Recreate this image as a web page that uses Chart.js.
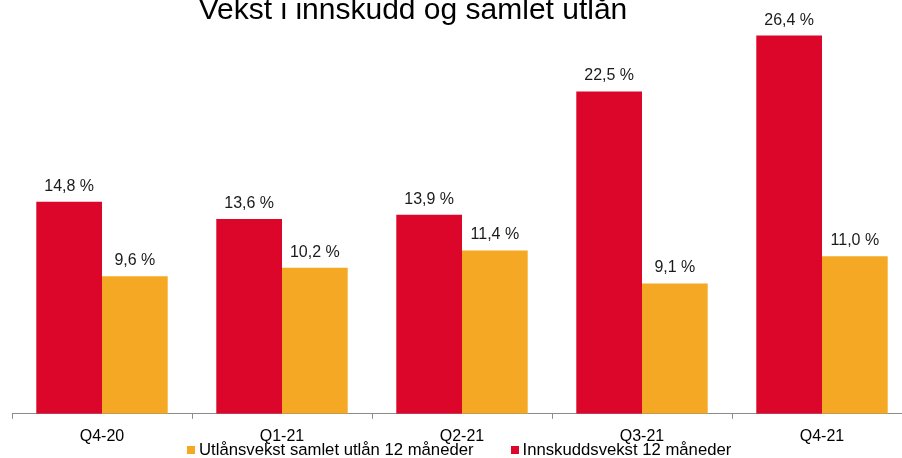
<!DOCTYPE html>
<html>
<head>
<meta charset="utf-8">
<script src="https://cdn.jsdelivr.net/npm/chart.js@4/dist/chart.umd.min.js"></script>
<style>
  html, body { margin: 0; padding: 0; background: #fff; overflow: hidden; }
  body { width: 902px; height: 458px; position: relative; font-family: "Liberation Sans", Arial, sans-serif; }
  #wrap { position: absolute; left: 0; top: -16px; width: 912px; height: 474px; }
  #title {
    position: absolute; left: 0; width: 826px; top: -6px; text-align: center;
    font-size: 30px; line-height: 30px; color: #000; z-index: 2; white-space: nowrap;
  }
  #legend {
    position: absolute; left: 187px; top: 440px; display: flex; gap: 37px;
    font-size: 16.7px; line-height: 19px; color: #000; white-space: nowrap; z-index: 2;
  }
  #legend .item { display: flex; align-items: center; }
  #legend .box { width: 8px; height: 8px; margin-right: 4px; margin-top: 1px; }
</style>
</head>
<body>
<div id="title">Vekst i innskudd og samlet utlån</div>
<div id="wrap"><canvas id="c"></canvas></div>
<div id="legend"></div>
<script>
// Data
const quarters = ['Q4-20', 'Q1-21', 'Q2-21', 'Q3-21', 'Q4-21'];
const innskuddsvekst = [14.8, 13.6, 13.9, 22.5, 26.4];
const utlansvekst = [9.6, 10.2, 11.4, 9.1, 11.0];

const RED = '#DB0629';
const ORANGE = '#F5A823';
const FONT = '"Liberation Sans", Arial, sans-serif';

// draw value labels above bars
const valueLabels = {
  id: 'valueLabels',
  afterDatasetsDraw(chart) {
    const ctx = chart.ctx;
    ctx.save();
    ctx.font = '16px ' + FONT;
    ctx.fillStyle = '#1a1a1a';
    ctx.textAlign = 'center';
    ctx.textBaseline = 'alphabetic';
    chart.data.datasets.forEach((ds, i) => {
      chart.getDatasetMeta(i).data.forEach((bar, j) => {
        const txt = ds.data[j].toFixed(1).replace('.', ',') + ' %';
        ctx.fillText(txt, bar.x, bar.y - 11);
      });
    });
    ctx.restore();
  }
};

const chart = new Chart(document.getElementById('c'), {
  type: 'bar',
  data: {
    labels: quarters,
    datasets: [
      { label: 'Innskuddsvekst 12 måneder', data: innskuddsvekst, backgroundColor: RED },
      { label: 'Utlånsvekst samlet utlån 12 måneder', data: utlansvekst, backgroundColor: ORANGE }
    ]
  },
  options: {
    responsive: true,
    maintainAspectRatio: false,
    animation: false,
    datasets: { bar: { categoryPercentage: 0.73, barPercentage: 1.0 } },
    layout: { padding: { left: 12, right: 0, top: 0, bottom: 4 } },
    plugins: {
      tooltip: { enabled: false },
      legend: { display: false }
    },
    scales: {
      x: {
        grid: { offset: true, drawOnChartArea: false, tickLength: 5, color: '#8c8c8c' },
        border: { color: '#8c8c8c', width: 1 },
        ticks: { font: { family: FONT, size: 16 }, color: '#000', padding: 8 }
      },
      y: {
        display: false,
        min: 0,
        max: 30
      }
    }
  },
  plugins: [valueLabels]
});

// legend, orange first like the reference
const legendEl = document.getElementById('legend');
chart.data.datasets.slice().reverse().forEach(ds => {
  const item = document.createElement('div');
  item.className = 'item';
  const box = document.createElement('span');
  box.className = 'box';
  box.style.background = ds.backgroundColor;
  const txt = document.createElement('span');
  txt.textContent = ds.label;
  item.appendChild(box);
  item.appendChild(txt);
  legendEl.appendChild(item);
});
</script>
</body>
</html>
